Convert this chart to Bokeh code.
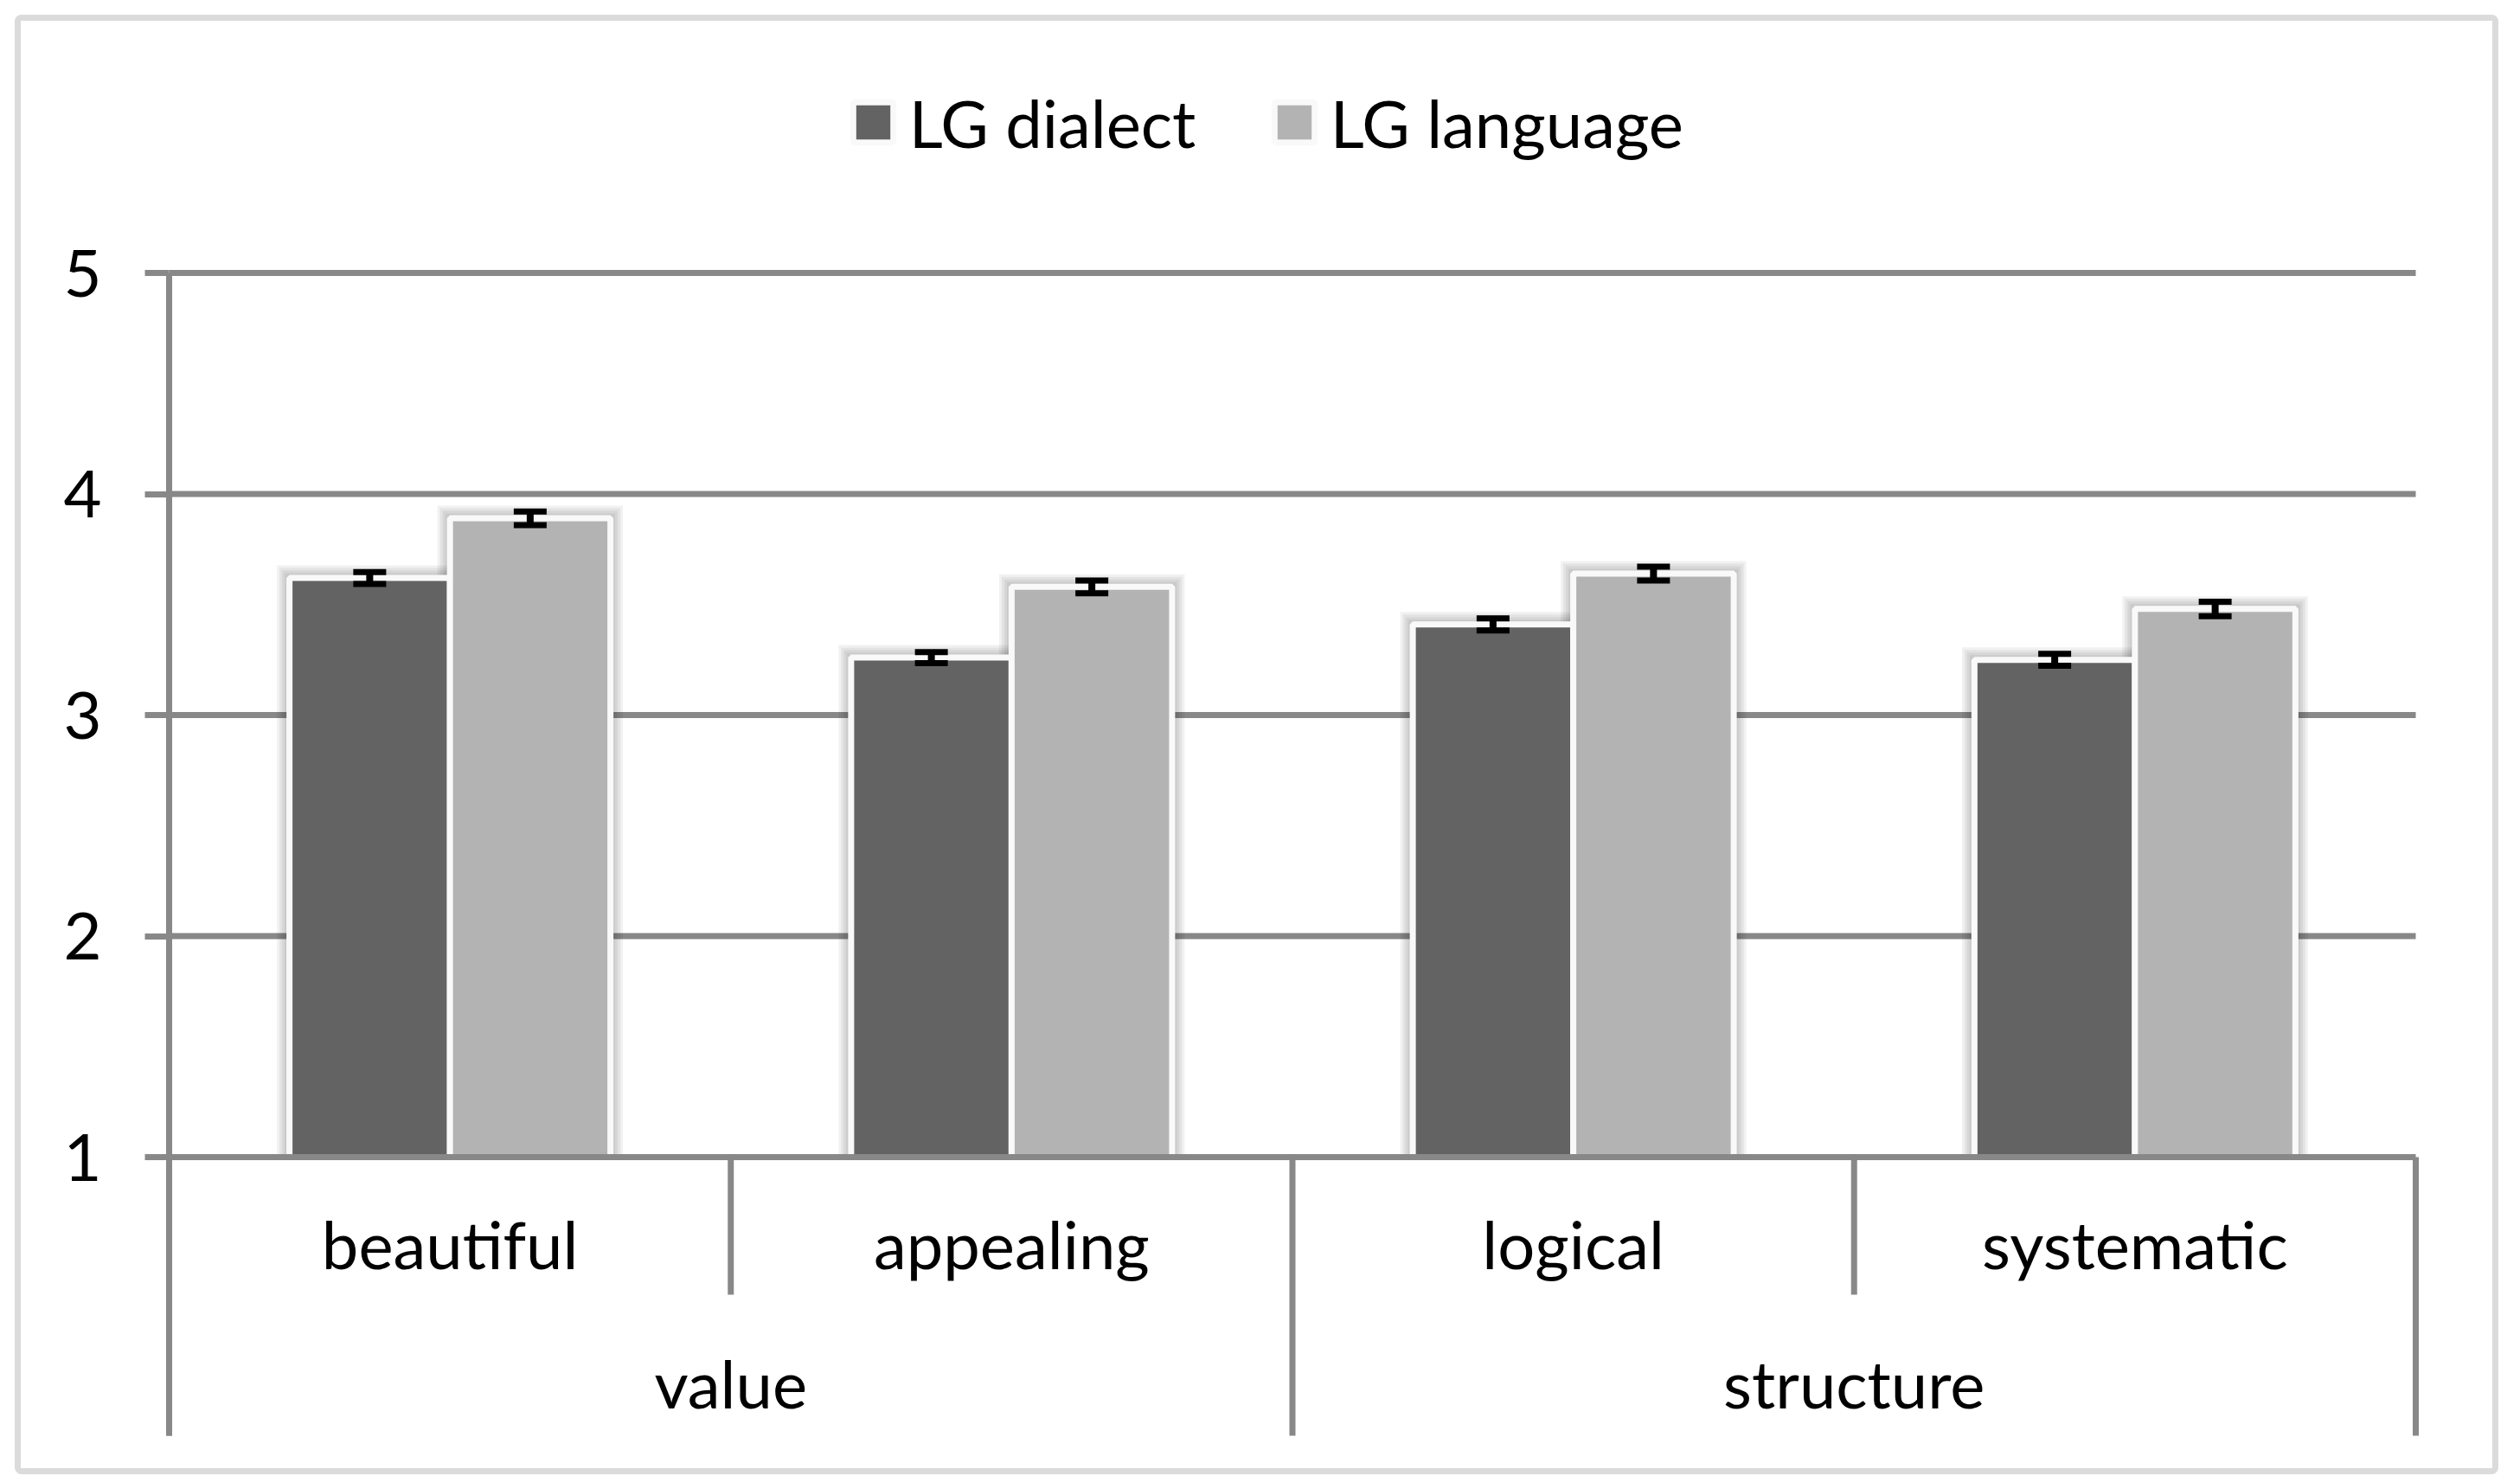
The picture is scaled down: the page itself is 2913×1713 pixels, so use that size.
from bokeh.plotting import figure
from bokeh.models import Range1d, FixedTicker, ColumnDataSource, Legend, LegendItem, BoxAnnotation
from bokeh.core.properties import value
from bokeh.embed import file_html
from bokeh.resources import INLINE

# ---------------- data ----------------
groups = ["value", "value", "structure", "structure"]
categories = ["beautiful", "appealing", "logical", "systematic"]
series_names = ["LG dialect", "LG language"]
dialect = [3.62, 3.26, 3.41, 3.25]
language = [3.89, 3.58, 3.64, 3.48]
dialect_err = [0.027, 0.025, 0.027, 0.027]
language_err = [0.031, 0.029, 0.031, 0.033]
y_ticks = [1, 2, 3, 4, 5]

# ---------------- geometry / style ----------------
W, H = 2905, 1705
PX_X = 649.25          # pixels per category
PX_Y = 255.5           # pixels per rating unit
X0_PX = 195            # canvas px of x = 0
Y1_PX = 1337           # canvas px (from top) of y = 1
FONT = "Lato"
FS = "76px"
GRID = "#888888"
DARK = "#636363"
LIGHT = "#b3b3b3"
EDGE = "#f9f9f9"

def dx(px):
    return px / PX_X

def dy(px):
    return px / PX_Y

SEP_LONG = 1 - dy(322)
SEP_SHORT = 1 - dy(159)
CAT_Y = 1 - dy(100)
GROUP_Y = 1 - dy(261)
BAR_W = dx(185.5)

p = figure(width=W, height=H,
           x_range=Range1d(-dx(X0_PX), dx(W - X0_PX)),
           y_range=Range1d(1 - dy(H - Y1_PX), 1 + dy(Y1_PX)),
           output_backend="svg", toolbar_location=None,
           x_axis_location=None, y_axis_location="left", min_border=0)
p.outline_line_color = None
p.grid.visible = False
p.background_fill_color = "white"
p.border_fill_color = "white"

# y axis (real axis placed at x = 0)
ax = p.yaxis[0]
ax.fixed_location = 0
ax.bounds = (SEP_LONG, y_ticks[-1])
ax.ticker = FixedTicker(ticks=y_ticks)
ax.axis_line_color = GRID
ax.axis_line_width = 7
ax.major_tick_line_color = GRID
ax.major_tick_line_width = 7
ax.major_tick_out = 28
ax.major_tick_in = 0
ax.minor_tick_line_color = None
ax.major_label_text_font = FONT
ax.major_label_text_font_size = FS
ax.major_label_text_color = "black"
ax.major_label_standoff = 50

n = len(categories)
centers = [i + 0.5 for i in range(n)]

# gridlines (behind bars)
p.segment(x0=[0] * (len(y_ticks) - 1), x1=[n] * (len(y_ticks) - 1),
          y0=y_ticks[1:], y1=y_ticks[1:], line_color=GRID, line_width=7)

series = [
    (dialect, dialect_err, DARK, -0.5),
    (language, language_err, LIGHT, 0.5),
]

bar_renderers = []
for vals, errs, col, off in series:
    xs = [c + off * BAR_W for c in centers]
    # soft shadow
    for k in (11, 8, 5, 2):
        grow = 3.5 + k
        p.quad(left=[x - BAR_W / 2 - dx(grow) for x in xs],
               right=[x + BAR_W / 2 + dx(grow) for x in xs],
               top=[v + dy(grow) for v in vals],
               bottom=[1] * n,
               fill_color="black", fill_alpha=0.055, line_color=None)

for vals, errs, col, off in series:
    xs = [c + off * BAR_W for c in centers]
    src = ColumnDataSource(dict(x=xs, top=vals))
    r = p.vbar(x="x", top="top", bottom=1, width=BAR_W, source=src,
               fill_color=col, line_color=EDGE, line_width=7)
    bar_renderers.append(r)

for vals, errs, col, off in series:
    xs = [c + off * BAR_W for c in centers]
    lo = [v - e for v, e in zip(vals, errs)]
    hi = [v + e for v, e in zip(vals, errs)]
    p.segment(x0=xs, x1=xs, y0=lo, y1=hi, line_color="black", line_width=8)
    for ends in (lo, hi):
        p.segment(x0=[x - dx(19) for x in xs], x1=[x + dx(19) for x in xs],
                  y0=ends, y1=ends, line_color="black", line_width=7)

# category axis line (on top of bars)
p.segment(x0=[0], x1=[n], y0=[y_ticks[0]], y1=[y_ticks[0]], line_color=GRID, line_width=7)

# category separators
sep_x, sep_b = [], []
for i in range(n + 1):
    edge = i == 0 or i == n or groups[i - 1] != groups[i]
    sep_x.append(i)
    sep_b.append(SEP_LONG if edge else SEP_SHORT)
p.segment(x0=sep_x, x1=sep_x, y0=[y_ticks[0]] * len(sep_x), y1=sep_b,
          line_color=GRID, line_width=7)

# category labels
p.text(x=centers, y=[CAT_Y] * n, text=categories,
       text_font=value(FONT), text_font_size=value(FS), text_color="black",
       text_align="center", text_baseline="alphabetic")

grp_names = []
for g in groups:
    if g not in grp_names:
        grp_names.append(g)
grp_x = [sum(c for c, g in zip(centers, groups) if g == name) /
         sum(1 for g in groups if g == name) for name in grp_names]
p.text(x=grp_x, y=[GROUP_Y] * len(grp_names), text=grp_names,
       text_font=value(FONT), text_font_size=value(FS), text_color="black",
       text_align="center", text_baseline="alphabetic")

# legends
leg_left = [979.7, 1466.7]
for name, r, lx in zip(series_names, bar_renderers, leg_left):
    leg = Legend(items=[LegendItem(label=name, renderers=[r])],
                 location=(lx, H - 186.5), orientation="horizontal",
                 glyph_width=58, glyph_height=58, label_standoff=13,
                 label_text_font=FONT, label_text_font_size=FS,
                 label_text_color="black", padding=0, margin=0, spacing=0,
                 border_line_color=None, background_fill_alpha=0)
    p.add_layout(leg)

# outer chart border
p.add_layout(BoxAnnotation(left=20, right=2884, top=20, bottom=1700,
                           left_units="canvas", right_units="canvas",
                           top_units="canvas", bottom_units="canvas",
                           fill_color=None, fill_alpha=0,
                           line_color=GRID, line_width=7, border_radius=4))

open("out.html", "w").write(file_html(p, INLINE))
